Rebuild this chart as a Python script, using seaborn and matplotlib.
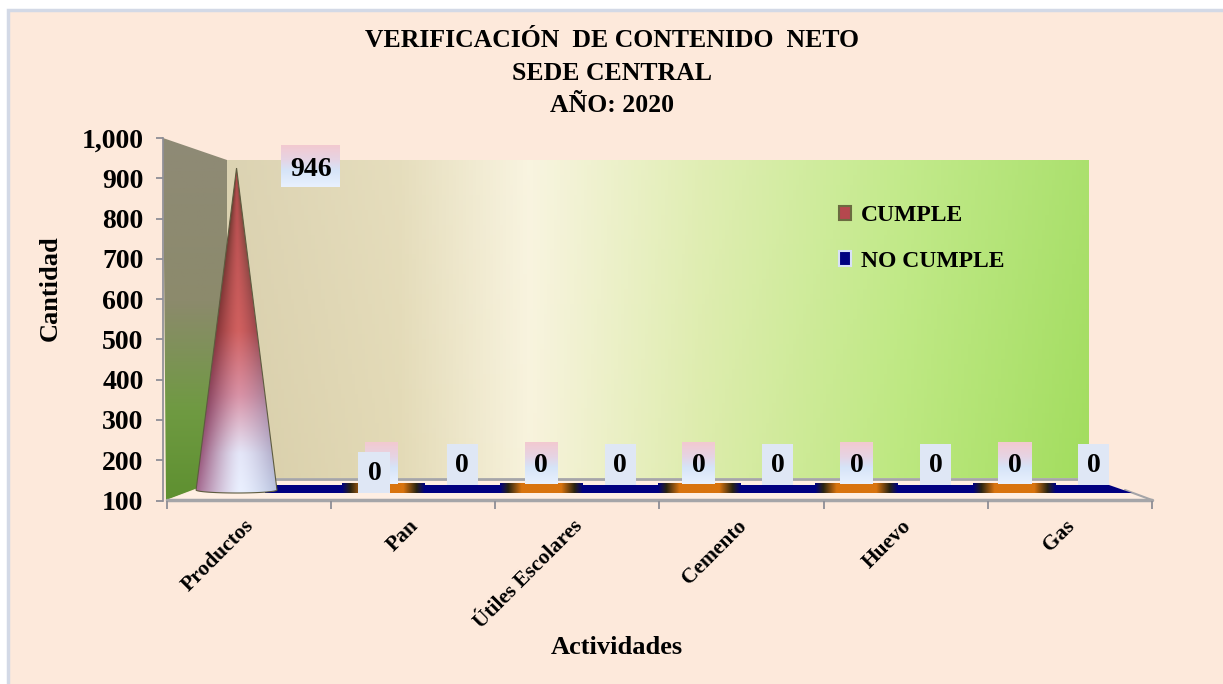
#!/usr/bin/env python3
"""Verificacion de contenido neto: cone chart rebuilt with seaborn bars as the scale."""

import numpy as np
import pandas as pd
import matplotlib
matplotlib.use("Agg")
import matplotlib.pyplot as plt
import seaborn as sns
from matplotlib.colors import LinearSegmentedColormap
from matplotlib.patches import Patch, Polygon, Rectangle

categories = ["Productos", "Pan", "Útiles Escolares", "Cemento", "Huevo", "Gas"]
cumple = [946, 0, 0, 0, 0, 0]
no_cumple = [0, 0, 0, 0, 0, 0]
series_names = ["CUMPLE", "NO CUMPLE"]
y_ticks = [100, 200, 300, 400, 500, 600, 700, 800, 900, 1000]
title_lines = ["VERIFICACIÓN  DE CONTENIDO  NETO", "SEDE CENTRAL", "AÑO: 2020"]

PANEL = "#FDE9DB"
BORDER = "#D3D9E6"
GREY = "#A5A5A8"
BAR_COLORS = {"CUMPLE": "#B5484E", "NO CUMPLE": "#000080"}
W, H = 1223, 684


def px_axes(fig, left, top, right, bottom):
    """Axes placed by pixel box of the image."""
    return fig.add_axes([left / W, 1 - bottom / H, (right - left) / W, (bottom - top) / H])


def gradient(stops, n=256):
    return LinearSegmentedColormap.from_list("g", stops)(np.linspace(0, 1, n))


def draw_walls(ax):
    """Panel, back wall, side wall and floor, in image pixels."""
    ax.add_patch(Rectangle((8, 10), W, H, fc=PANEL, ec=BORDER, lw=2.5))

    back = gradient([(0, "#D8CEAA"), (0.2, "#E3DAB6"), (0.35, "#F8F3DD"), (0.55, "#DDECAC"),
                     (0.78, "#BDE880"), (1, "#A2DD5E")])[None, :, :3]
    fade = np.linspace(0.1, 0, 64)[:, None, None]
    ax.imshow(back * (1 - fade) + fade, extent=(227, 1089, 478, 160), aspect="auto", zorder=1)

    side = gradient([(0, "#8F8A76"), (0.45, "#8C8A6C"), (0.75, "#6F9A42"), (1, "#5E9030")])
    im = ax.imshow(side[:, None, :3], extent=(163, 227, 501, 138), aspect="auto", zorder=1)
    im.set_clip_path(Polygon([(163, 138), (227, 160), (227, 477), (166, 500)],
                             transform=ax.transData))

    ax.add_patch(Polygon([(227, 478), (1089, 478), (1152, 500), (167, 500)],
                         fc="#FFEFE3", ec="none", zorder=2))
    ax.plot([227, 1089], [478.5, 478.5], color=GREY, lw=2, zorder=2.1)
    ax.plot([167, 1152], [499.5, 499.5], color=GREY, lw=2.5, zorder=2.1)
    ax.plot([1125, 1152], [490, 500], color=GREY, lw=1.5, zorder=2.1)


def draw_cone(ax, cx, half, y_top, y_base):
    """Shaded cone: red at the tip, pale lavender at the base."""
    core = gradient([(0, "#B04A4C"), (0.5, "#D0605F"), (0.7, "#D892A6"),
                     (0.88, "#E4E6F8"), (1, "#EAF0FF")])[:, None, :3]
    left = gradient([(0, "#5E3A2A"), (0.5, "#863438"), (0.75, "#8E4A6A"), (1, "#A4688F")])[:, None, :3]
    right = gradient([(0, "#5E4A30"), (0.5, "#8E4048"), (0.75, "#A48AA8"), (1, "#A8B4D4")])[:, None, :3]
    u = np.linspace(-1, 1, 200)[None, :]
    t = np.linspace(0, 1, 256)[:, None]
    local = np.clip(u / np.maximum(t, 0.02), -1, 1)
    mix = (np.abs(local - 0.1) / 1.1)[:, :, None] ** 1.4
    edge = np.where(local[:, :, None] < 0.1, left, right)
    img = core * (1 - mix) + edge * mix

    arc = np.linspace(0, np.pi, 40)
    outline = [(cx, y_top)] + [(cx + half * np.cos(a), y_base + 3 * np.sin(a)) for a in arc]
    im = ax.imshow(np.clip(img, 0, 1), extent=(cx - half, cx + half, y_base + 3, y_top),
                   aspect="auto", zorder=4)
    im.set_clip_path(Polygon(outline, transform=ax.transData))
    ax.add_patch(Polygon(outline, fc="none", ec="#5E5C40", lw=0.8, zorder=4.1))


def draw_box(ax, cx, top, width, height, stops=None):
    """Data label background, flat or with the pink fade."""
    if stops is None:
        ax.add_patch(Rectangle((cx - width / 2, top), width, height, fc="#DFE7F5",
                               ec="none", zorder=6))
    else:
        ax.imshow(gradient(stops)[:, None, :3], aspect="auto", zorder=6,
                  extent=(cx - width / 2, cx + width / 2, top + height, top))


sns.set_theme(style="white")
plt.rcParams["font.family"] = ["Liberation Serif", "DejaVu Sans"]
plt.rcParams["font.weight"] = "bold"
plt.rcParams["text.color"] = "black"

fig = plt.figure(figsize=(W / 100, H / 100), dpi=100, facecolor="white")

# pixel canvas holding the walls and the marks
ax_bg = fig.add_axes([0, 0, 1, 1])
ax_bg.set_xlim(0, W)
ax_bg.set_ylim(H, 0)
ax_bg.set_autoscale_on(False)
ax_bg.axis("off")

draw_walls(ax_bg)

# the series sit on a plane further back than the drawn axis, so they get their own scale
df = pd.DataFrame({
    "categoria": categories * 2,
    "serie": [series_names[0]] * len(categories) + [series_names[1]] * len(categories),
    "valor": cumple + no_cumple,
})
ax_plane = px_axes(fig, 167, 147.5, 1152, 490)
sns.barplot(data=df, x="categoria", y="valor", hue="serie", hue_order=series_names,
            palette=BAR_COLORS, width=1.0, legend=False, ax=ax_plane)
ax_plane.set_xlim((167 - 265) / 157.8, (1152 - 265) / 157.8)
ax_plane.set_ylim(100, 1000)
ax_plane.axis("off")
ax_plane.patch.set_alpha(0)

floor_clip = Polygon([(227, 478), (1089, 478), (1152, 500), (167, 500)], transform=ax_bg.transData)
pink_fade = [(0, "#F3C9D0"), (0.35, "#E6D4E4"), (0.6, "#D6E4F8"), (1, "#E9F1FE")]
orange_strip = [(0, "#000080"), (0.1, "#2A2412"), (0.26, "#D9740F"), (0.74, "#D9740F"),
                (0.9, "#2A2412"), (1, "#000080")]

for serie, container in zip(series_names, ax_plane.containers):
    for i, bar in enumerate(container):
        bar.set_alpha(0)
        val = bar.get_height()
        to_px = ax_plane.transData.transform
        inv = ax_bg.transData.inverted().transform
        cx, y_top = inv(to_px((bar.get_x() + bar.get_width() / 2, max(val, 100))))
        x1, _ = inv(to_px((bar.get_x() + bar.get_width(), 100)))
        half = x1 - cx
        _, y_base = inv(to_px((0, 100)))

        if serie == "NO CUMPLE":
            rect = Rectangle((cx - half, y_base - 5.5), 2 * half, 8.5, fc=BAR_COLORS[serie],
                             ec="none", zorder=3)
            ax_bg.add_patch(rect)
            rect.set_clip_path(floor_clip)
        elif val > 100:
            # the tall cone stands a little right of its slot in the source chart
            draw_cone(ax_bg, cx + 11, half + 1, y_top, y_base)
        else:
            ax_bg.imshow(gradient(orange_strip)[None, :, :3], aspect="auto", zorder=3.2,
                         extent=(cx - half - 2, cx + half + 2, y_base + 3, y_base - 6.5))

        # data labels
        label = f"{val:.0f}"
        if val > 100:
            draw_box(ax_bg, cx + 85, 145, 59, 42, pink_fade)
            ax_bg.text(cx + 85.5, 169, label, ha="center", va="center", fontsize=20, zorder=7)
        elif serie == "CUMPLE":
            box_x = cx - 2 if i == 1 else cx
            draw_box(ax_bg, box_x, 442, 33, 42, pink_fade)
            if i == 1:
                draw_box(ax_bg, cx - 9, 452, 32, 41)
                ax_bg.text(cx - 8.5, 474, label, ha="center", va="center", fontsize=20, zorder=7)
            else:
                ax_bg.text(cx, 465, label, ha="center", va="center", fontsize=20, zorder=7)
        elif i > 0:
            # the first zero of this series carries no label in the source chart
            draw_box(ax_bg, cx, 444, 31, 41)
            ax_bg.text(cx, 465, label, ha="center", va="center", fontsize=20, zorder=7)

# the drawn axis
ax = px_axes(fig, 163, 138, 1152, 500.5)
ax.patch.set_alpha(0)
ax.set_xlim(-0.5 - 4 / 164.2, 5.5)
ax.set_ylim(100, 1000)
ax.set_yticks(y_ticks, [f"{v:,d}" for v in y_ticks], fontsize=20)
ax.set_xticks(np.arange(len(categories)) - 0.03, categories, fontsize=15.5, rotation=45,
              ha="right", va="top", rotation_mode="anchor")
ax.set_xticks(np.arange(len(categories) + 1) - 0.5, minor=True)
ax.tick_params(axis="x", which="major", length=0, pad=11, labelcolor="black")
ax.tick_params(axis="x", which="minor", length=6, width=1.3, color="#8E8E96", bottom=True)
ax.tick_params(axis="y", length=5, width=1.3, color="#8E8E96", pad=9, left=True, labelcolor="black")
sns.despine(ax=ax)
ax.spines["left"].set_color("#8E8E96")
ax.spines["bottom"].set_visible(False)
ax.set_xlabel("Actividades", fontsize=19, fontweight="bold", color="black")
ax.set_ylabel("Cantidad", fontsize=19, fontweight="bold", color="black")
ax.xaxis.set_label_coords(617, 636, transform=ax_bg.transData)
ax.yaxis.set_label_coords(62, 288, transform=ax_bg.transData)

ax_bg.text(612, 73, "\n".join(title_lines), ha="center", va="center", fontsize=18.5, linespacing=1.52,
           color="black", zorder=8)

handles = [Patch(fc=BAR_COLORS[n], ec="#6B6B40" if n == "CUMPLE" else "#D8E0F8", lw=1.5, label=n)
           for n in series_names]
leg = ax.legend(handles=handles, loc="upper left", frameon=False, fontsize=17,
                bbox_to_anchor=(838.5, 205), bbox_transform=ax_bg.transData,
                handlelength=0.55, handleheight=0.55, handletextpad=0.4, labelspacing=1.05,
                labelcolor="black", borderpad=0, borderaxespad=0)

plt.savefig("out.png", dpi=100, facecolor="white")
plt.close()
